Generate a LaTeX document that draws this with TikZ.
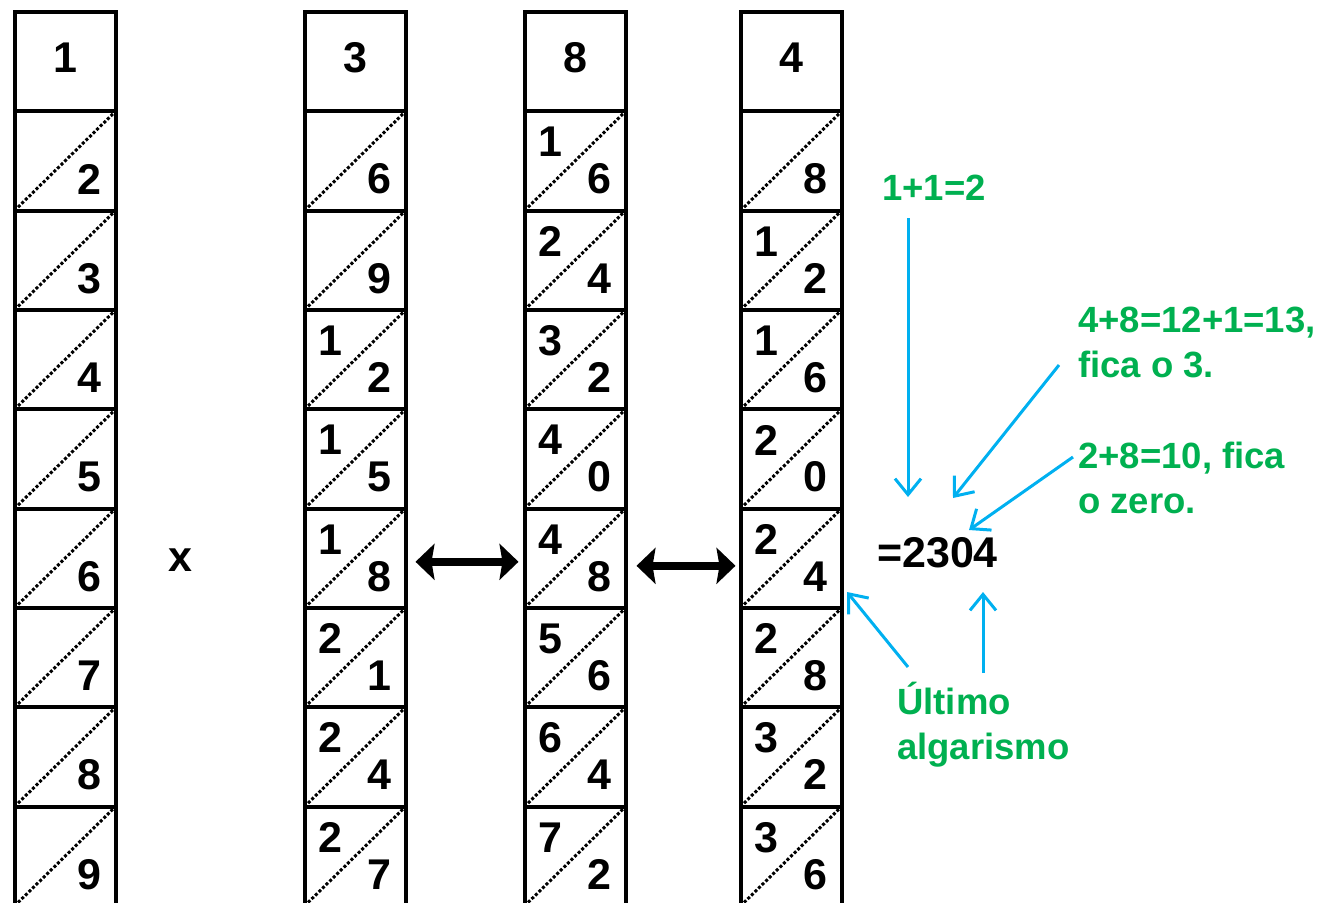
\documentclass[tikz,border=0pt]{standalone}
\usepackage{fontspec}
\setmainfont{Liberation Sans}
\usetikzlibrary{arrows.meta}
\definecolor{lgreen}{HTML}{00B050}
\definecolor{lblue}{HTML}{00B0F0}
\begin{document}
\begin{tikzpicture}[x=1pt,y=-1pt,
  cell/.style={draw, line width=4pt, minimum width=101pt, minimum height=99.33pt, inner sep=0pt, outer sep=0pt},
  digit/.style={font=\fontsize{43}{50}\selectfont\bfseries, inner sep=0pt},
  diag/.style={line width=3pt, dash pattern=on 3pt off 2pt},
  note/.style={font=\fontsize{36.5}{45}\selectfont\bfseries, text=lgreen, inner sep=0pt, align=left},
  pointer/.style={draw=lblue, line width=3pt, -{Straight Barb[length=16pt,width=26pt]}},
  swap/.style={line width=8pt, {Stealth[length=19pt,width=36pt,inset=3pt]}-{Stealth[length=19pt,width=36pt,inset=3pt]}}
]
\useasboundingbox (0,0) rectangle (1324,902);
\clip (0,0) rectangle (1324,902);
% columns
\foreach \col/\cx/\hd in {a/65/1, b/355/3, c/575/8, d/791/4}{
  \node[cell] (\col r0) at (\cx,{12+99.33*0.5}) {};
  \node[digit] (\col h) at ([shift={(0,-4)}]\col r0.center) {\hd};
}
\foreach \col/\cx/\list in {
  a/65/{1//2,2//3,3//4,4//5,5//6,6//7,7//8,8//9},
  b/355/{1//6,2//9,3/1/2,4/1/5,5/1/8,6/2/1,7/2/4,8/2/7},
  c/575/{1/1/6,2/2/4,3/3/2,4/4/0,5/4/8,6/5/6,7/6/4,8/7/2},
  d/791/{1//8,2/1/2,3/1/6,4/2/0,5/2/4,6/2/8,7/3/2,8/3/6}}{
  \foreach \r/\ua/\lb in \list {
    \node[cell] (\col r\r) at (\cx,{12+99.33*(\r+0.5)}) {};
    \draw[diag] (\col r\r.south west) -- (\col r\r.north east);
    \ifx\ua\empty\else
      \node[digit] (\col r\r u) at ([shift={(-25,-19)}]\col r\r.center) {\ua};
    \fi
    \node[digit] (\col r\r l) at ([shift={(24,18)}]\col r\r.center) {\lb};
  }
}
% times sign and result
\node[digit] (times) at (180,560) {x};
\node[digit] (res) at (937.5,552.5) {=2304};
% swap arrows
\draw[swap] ([shift={(10,3.5)}]br5.east) -- ([shift={(-6,3.5)}]cr5.west);
\draw[swap] ([shift={(11,7.5)}]cr5.east) -- ([shift={(-5,7.5)}]dr5.west);
% notes
\node[note, anchor=base west] (n1) at (882,200) {1+1=2};
\node[note, anchor=base west] (n2) at (1078,377) {4+8=12+1=13,\\fica o 3.};
\node[note, anchor=base west] (n3) at (1078,513) {2+8=10, fica\\o zero.};
\node[note, anchor=base west] (n4) at (897,759) {Último\\algarismo};
% pointers
\coordinate (p1s) at (908,218); \coordinate (p1e) at (908,497);
\coordinate (p2s) at (1059,365); \coordinate (p2e) at (953,498);
\coordinate (p3s) at (1073,457); \coordinate (p3e) at (969,530);
\coordinate (p4s) at (908,667); \coordinate (p4e) at (847,592);
\coordinate (p5s) at (983,673); \coordinate (p5e) at (983,592);
\draw[pointer] (p1s) -- (p1e);
\draw[pointer] (p2s) -- (p2e);
\draw[pointer] (p3s) -- (p3e);
\draw[pointer] (p4s) -- (p4e);
\draw[pointer] (p5s) -- (p5e);
\end{tikzpicture}
\end{document}
